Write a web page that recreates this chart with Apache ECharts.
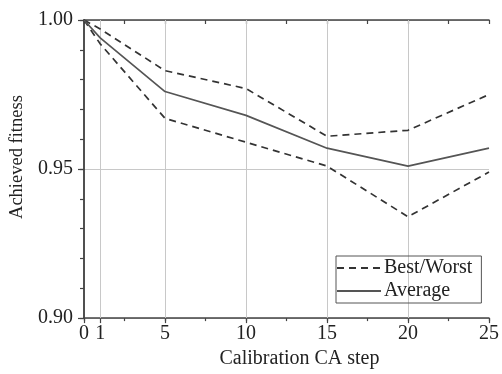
<!DOCTYPE html>
<html>
<head>
<meta charset="utf-8">
<script src="https://cdn.jsdelivr.net/npm/echarts@6/dist/echarts.min.js"></script>
<style>
html,body{margin:0;padding:0;background:#fff;}
#c{width:502px;height:374px;}
</style>
</head>
<body>
<div id="c"></div>
<script>
var steps = [0, 1, 5, 10, 15, 20, 25];
var xTickLabels = [0, 1, 5, 10, 15, 20, 25];
var yTickLabels = [0.90, 0.95, 1.00];
var average = [1.000, 0.994, 0.976, 0.968, 0.957, 0.951, 0.957];
var best = [1.000, 0.997, 0.983, 0.977, 0.961, 0.963, 0.975];
var worst = [1.000, 0.992, 0.967, 0.959, 0.951, 0.934, 0.949];
var xGridValues = [1, 5, 10, 15, 20];

function pairs(xs, ys) { return xs.map(function (x, i) { return [x, ys[i]]; }); }

var FONT = 'Liberation Serif';
var INK = '#333';
var chart = echarts.init(document.getElementById('c'), null, {renderer: 'canvas'});
chart.setOption({
  animation: false,
  backgroundColor: '#fff',
  grid: {left: 84, top: 20, right: 9, bottom: 53, containLabel: false},
  legend: {
    orient: 'vertical', left: 336, top: 256,
    itemWidth: 44, itemHeight: 14, itemGap: 3,
    padding: [2, 9, 2, 0],
    borderColor: '#555', borderWidth: 1,
    itemStyle: {opacity: 0},
    textStyle: {fontFamily: FONT, fontSize: 20, color: '#222', padding: [0, 0, 0, -2]},
    data: ['Best/Worst', 'Average']
  },
  xAxis: [
    {
      type: 'value', min: 0, max: 25, position: 'bottom',
      name: 'Calibration CA step', nameLocation: 'middle', nameGap: 26,
      nameTextStyle: {fontFamily: FONT, fontSize: 20, color: '#222', padding: [0, 0, 0, 26]},
      axisLine: {show: true, lineStyle: {color: '#444', width: 1.5}},
      axisTick: {show: true, inside: false, length: 5, customValues: xTickLabels, lineStyle: {color: '#444', width: 1.2}},
      axisLabel: {customValues: xTickLabels, margin: 6, fontFamily: FONT, fontSize: 20, color: '#222'},
      splitLine: {show: false}
    },
    {
      type: 'value', min: 0, max: 25, interval: 2.5, position: 'bottom',
      axisLine: {show: false},
      axisTick: {show: true, inside: false, length: 3, lineStyle: {color: '#444', width: 1.2}},
      axisLabel: {show: false},
      splitLine: {show: false}
    },
    {
      type: 'value', min: 0, max: 25, interval: 2.5, position: 'top',
      axisLine: {show: true, lineStyle: {color: '#444', width: 1.5}},
      axisTick: {show: true, inside: true, length: 4, lineStyle: {color: '#444', width: 1.2}},
      axisLabel: {show: false},
      splitLine: {show: false}
    }
  ],
  yAxis: [
    {
      type: 'value', min: 0.9, max: 1.0, interval: 0.05, position: 'left',
      name: 'Achieved fitness', nameLocation: 'middle', nameGap: 50,
      nameTextStyle: {fontFamily: FONT, fontSize: 18.5, color: '#222', padding: [0, 0, 0, 24]},
      axisLine: {show: true, lineStyle: {color: '#444', width: 1.5}},
      axisTick: {show: true, inside: false, length: 6, lineStyle: {color: '#444', width: 1.2}},
      minorTick: {show: true, splitNumber: 5, length: 3, lineStyle: {color: '#444', width: 1}},
      axisLabel: {margin: 11, fontFamily: FONT, fontSize: 20, color: '#222',
        formatter: function (v) { return v.toFixed(2); }},
      splitLine: {show: true, lineStyle: {color: '#c8c8c8', width: 1}}
    },
    {
      type: 'value', min: 0.9, max: 1.0, interval: 0.01, position: 'right',
      axisLine: {show: true, lineStyle: {color: '#444', width: 1.5}},
      axisTick: {show: true, inside: true, length: 4, lineStyle: {color: '#444', width: 1.2}},
      axisLabel: {show: false},
      splitLine: {show: false}
    }
  ],
  series: [
    {
      name: 'Best/Worst', type: 'line', data: pairs(steps, best), symbol: 'none',
      lineStyle: {color: INK, width: 1.7, type: [7, 5]}, itemStyle: {color: INK}, z: 3,
      markLine: {
        silent: true, symbol: 'none', label: {show: false},
        lineStyle: {color: '#c8c8c8', width: 1, type: 'solid'},
        data: xGridValues.map(function (v) { return {xAxis: v}; }), z: 1
      }
    },
    {
      name: 'Best/Worst', type: 'line', data: pairs(steps, worst), symbol: 'none',
      lineStyle: {color: INK, width: 1.7, type: [7, 5]}, itemStyle: {color: INK}, z: 3
    },
    {
      name: 'Average', type: 'line', data: pairs(steps, average), symbol: 'none',
      lineStyle: {color: '#555', width: 1.7, type: 'solid'}, itemStyle: {color: '#555'}, z: 3
    }
  ]
});
</script>
</body>
</html>
